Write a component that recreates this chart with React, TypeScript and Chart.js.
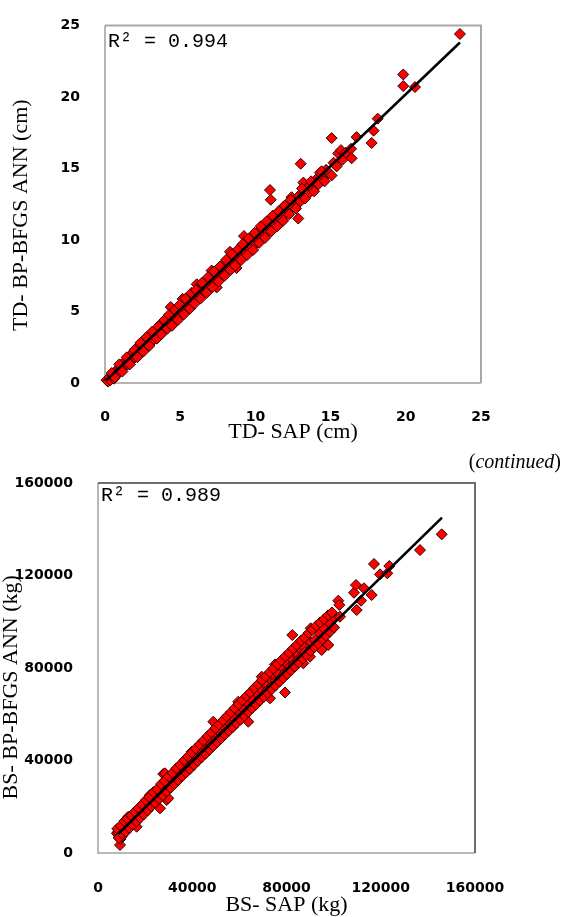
import React, { useEffect, useRef } from "react";
import { Chart, registerables } from "chart.js";

Chart.register(...registerables);

// ---------- Panel 1: TD (cm) ----------
const tdSap = [
  0.1, 0.2, 0.3, 0.35, 0.5, 0.55, 0.6, 0.7, 0.75, 0.8, 0.9, 1.0, 1.05, 1.1, 1.2, 1.3, 1.35, 1.4, 1.5, 1.55, 1.6, 1.7, 1.8, 1.85, 1.88, 2.0,
  2.1, 2.2, 2.25, 2.3, 2.44, 2.5, 2.6, 2.7, 2.8, 2.85, 2.9, 3.0, 3.1, 3.2, 3.3, 3.35, 3.4, 3.5, 3.6, 3.66, 3.7, 3.8, 3.9, 4.0, 4.05, 4.1, 4.2,
  4.3, 4.37, 4.4, 4.5, 4.6, 4.7, 4.8, 4.9, 5.0, 5.1, 5.16, 5.2, 5.3, 5.4, 5.5, 5.6, 5.7, 5.8, 5.9, 6.0, 6.1, 6.15, 6.2, 6.3, 6.4, 6.5,
  6.6, 6.7, 6.8, 6.9, 7.0, 7.09, 7.2, 7.3, 7.43, 7.5, 7.6, 7.7, 7.8, 7.9,
  8.0, 8.1, 8.2, 8.31, 8.4, 8.5, 8.6, 8.75, 8.8, 8.9, 9.0, 9.1, 9.24, 9.3, 9.4, 9.5, 9.6, 9.7, 9.8, 9.9, 10.0, 10.1, 10.2, 10.3, 10.4,
  10.5, 10.6, 10.7, 10.8, 10.97, 11.02, 11.0, 11.1, 11.2, 11.3, 11.4, 11.5, 11.64, 11.7, 11.86, 12.0, 12.1, 12.2, 12.41, 12.5, 12.6, 12.85,
  12.9, 13.0, 13.01, 13.19, 13.2, 13.41, 13.5, 13.6, 13.85, 14.0, 14.07, 14.2, 14.3, 14.5, 14.7, 15.07, 15.07, 15.2, 15.4, 15.51, 15.69,
  15.78, 16.0, 16.36, 16.4, 16.73, 17.73, 17.86, 18.13, 19.83, 19.83, 20.61, 23.6,
  0.45, 0.65, 0.95, 1.15, 1.45, 1.65, 1.95, 2.15, 2.35, 2.55, 2.75, 2.95, 3.15, 3.45, 3.55, 3.75, 3.95, 4.15, 4.25, 4.45, 4.65, 4.85,
  4.95, 5.25, 5.35, 5.65, 5.75, 5.95, 6.05, 6.35, 6.45, 6.75, 6.85, 7.15, 7.25, 7.55, 7.65, 7.95, 8.05, 8.35, 8.45, 8.65, 8.85, 9.05,
  9.15, 9.45, 9.55, 9.85, 9.95, 10.25, 10.35, 10.65, 10.75, 11.05, 11.15, 11.45, 11.55, 11.85, 11.95, 12.25, 12.35, 12.7, 13.1, 13.3,
  13.7, 13.9, 14.4, 14.6,
];
const tdAnn = [
  0.2, 0.1, 0.4, 0.2, 0.6, 0.5, 0.3, 0.8, 0.6, 0.9, 0.7, 1.1, 0.9, 1.3, 1.0, 1.4, 1.2, 1.6, 1.3, 1.5, 1.8, 1.5, 2.0, 1.7, 2.13, 1.8,
  2.4, 2.0, 2.3, 2.6, 2.81, 2.3, 2.7, 2.5, 3.0, 2.7, 3.2, 2.8, 3.3, 3.0, 3.5, 3.2, 3.7, 3.3, 3.8, 4.07, 3.5, 4.0, 3.7, 4.2, 3.9, 4.5, 4.0,
  4.6, 5.31, 4.2, 4.8, 4.4, 5.0, 4.5, 5.2, 4.7, 5.3, 5.88, 4.9, 5.6, 5.1, 5.8, 5.4, 6.0, 5.5, 6.2, 5.8, 6.9, 6.4, 6.0, 6.7, 6.1, 6.9,
  6.4, 7.0, 6.5, 7.2, 6.8, 7.86, 7.0, 7.7, 6.68, 7.3, 8.0, 7.5, 8.2, 7.7,
  8.3, 7.9, 8.6, 9.17, 8.2, 8.8, 8.3, 8.04, 9.1, 8.7, 9.3, 8.9, 10.27, 9.6, 9.1, 9.9, 9.4, 10.0, 9.5, 10.3, 9.8, 10.5, 10.0, 10.7, 10.2,
  10.9, 10.4, 11.1, 10.6, 13.49, 12.81, 11.3, 10.9, 11.6, 11.1, 11.8, 11.3, 11.97, 11.5, 12.31, 11.8, 12.4, 12.0, 12.99, 12.3, 12.8, 11.5,
  13.1, 12.7, 15.33, 14.01, 13.3, 13.56, 13.2, 13.8, 13.56, 14.2, 14.01, 13.9, 14.69, 14.3, 14.9, 14.51, 17.12, 15.4, 15.14, 16.05, 16.28,
  15.6, 16.1, 16.37, 15.71, 17.19, 16.78, 17.64, 18.48, 21.57, 20.76, 20.69, 24.4,
  0.7, 0.4, 1.3, 0.8, 1.8, 1.3, 2.3, 1.8, 2.8, 2.2, 3.2, 2.6, 3.6, 3.1, 3.95, 3.4, 4.4, 3.8, 4.75, 4.0, 5.1, 4.4,
  5.45, 4.8, 5.9, 5.2, 6.3, 5.55, 6.5, 5.9, 7.0, 6.3, 7.4, 6.7, 7.8, 7.1, 8.15, 7.5, 8.6, 7.9, 9.0, 8.2, 9.35, 8.6,
  9.7, 8.95, 10.1, 9.3, 10.5, 9.8, 10.95, 10.15, 11.3, 10.6, 11.7, 10.95, 12.0, 11.35, 12.4, 11.8, 12.8, 12.2, 13.6, 12.9,
  14.1, 13.4, 14.8, 14.1,
];
const tdFitX = [0.1, 23.6];
const tdFitY = [0.2, 23.8];
const tdTicks = [0, 5, 10, 15, 20, 25];

// ---------- Panel 2: BS (kg) ----------
const bsSap = [
  8000, 8500, 9000, 9340, 9500, 10060, 10500, 11000, 11500, 12000, 12860, 13000, 13500, 14000, 15000, 15500, 16420, 16500, 17000, 17500,
  18000, 18500, 19230, 19950, 20500, 21000, 22070, 22000, 22500, 23000, 24000, 24500, 25000, 26000, 26310, 27000, 27710, 28000, 28430,
  29140, 29840, 29000, 30000, 31000, 32000, 33000, 34000, 35000, 36000, 37000, 38000, 39000, 39750, 40000, 41000, 42000, 43000, 44000,
  45000, 46000, 47000, 48000, 48930, 49000, 50000, 51000, 52000, 53000, 53900, 54000, 55000, 56000, 57000, 58000, 59000, 59540, 60000,
  61000, 62000, 63000, 63790, 64000, 65000, 66000, 67000, 68000, 69000, 69470, 70000, 71000, 72000, 73000, 73000, 74000, 74400, 75120,
  75500, 76000, 77000, 78000, 79360, 79000, 80000, 81000, 81480, 82000, 82460, 83000, 84000, 84320, 85000, 86000, 87130, 87140, 88000,
  89970, 90270, 90000, 92100, 94220, 94930, 96000, 97740, 98460, 99860, 101990, 102410, 102700, 109790, 108650, 109500, 111620, 112890,
  116150, 117130, 119680, 122780, 123630, 136660, 145870,
  8200, 8800, 9600, 10300, 11200, 11900, 12500, 13300, 14100, 14800, 15600, 16300, 17200, 17900, 18700, 19400, 20300, 21100, 21800,
  22600, 23500, 24200, 25100, 25900, 26800, 27500, 28300, 29100, 30000, 30800, 31600, 32400, 33300, 34100, 34900, 35700, 36600, 37400,
  38200, 39000, 39900, 40700, 41500, 42300, 43200, 44000, 44800, 45600, 46500, 47300, 48100, 48900, 49800, 50600, 51400, 52200, 53100,
  53900, 54700, 55500, 56400, 57200, 58000, 58800, 59700, 60500, 61300, 62100, 63000, 63800, 64600, 65400, 66300, 67100, 67900, 68700,
  69600, 70400, 71200, 72000, 72900, 73700, 74500, 75300, 76200, 77000, 77800, 78600, 79500, 80300, 81100, 81900, 82800, 83600, 84400,
  85200, 86100, 86900, 87700, 88500, 89400, 90200, 91000, 91800, 92700, 93500, 94300, 95200, 96000, 96800, 97700, 98500, 99300, 100200,
];
const bsAnn = [
  8500, 9000, 7000, 3460, 6000, 7050, 11000, 9500, 12500, 10500, 15700, 12000, 14000, 12500, 15500, 13500, 11370, 17000, 15000, 18500,
  16500, 19500, 17160, 20020, 22000, 19500, 25080, 21000, 23500, 21500, 25000, 22500, 26500, 24000, 19330, 28000, 34160, 26000, 34460,
  22920, 23650, 30500, 28500, 32500, 30000, 34500, 32000, 36500, 34500, 38500, 36000, 40500, 43800, 38500, 42500, 40000, 44500, 42000,
  46500, 44000, 48500, 46000, 56770, 50500, 48000, 53000, 50000, 55000, 51760, 52000, 57000, 54000, 59000, 56000, 61500, 65420, 58000,
  63000, 60000, 65500, 56770, 62000, 67000, 64000, 69500, 66000, 71000, 76230, 68000, 73000, 70500, 66890, 75500, 72000, 76960, 81500,
  74500, 78000, 75000, 80500, 69400, 77500, 82000, 79500, 80560, 84500, 94260, 81500, 86000, 86350, 83500, 88000, 82030, 89210, 87000,
  84880, 97150, 91500, 92100, 95000, 87770, 97000, 89940, 99310, 102180, 109100, 107240, 102180, 105070, 112560, 115880, 109100, 114460,
  111560, 124970, 120500, 120940, 124100, 131000, 137800,
  10500, 6500, 11800, 8200, 13800, 9200, 14800, 10800, 16200, 12300, 17800, 13600, 19400, 15200, 21000, 16700, 22800, 18400, 24100,
  20200, 26300, 21700, 27600, 23400, 29800, 24900, 31200, 26600, 33100, 28200, 34700, 29800, 36600, 31500, 38200, 33200, 40100, 34800,
  41700, 36300, 43500, 38100, 45200, 39700, 47000, 41400, 48600, 42900, 50500, 44600, 52100, 46200, 54000, 47900, 55600, 49500, 57400,
  51200, 59100, 52800, 60900, 54400, 62600, 56100, 64300, 57700, 66000, 59300, 67800, 61000, 69400, 62600, 71300, 64200, 72900, 65900,
  74700, 67500, 76300, 69200, 78200, 70800, 79800, 72400, 81600, 74100, 83300, 75700, 85000, 77400, 86600, 79000, 88400, 80600, 90000,
  82300, 91800, 84000, 93200, 85600, 95100, 87300, 96500, 89000, 98300, 90600, 99700, 92500, 101200, 94000, 102800, 95700, 104000, 97500,
];
const bsFitX = [8500, 146000];
const bsFitY = [8200, 145000];
const bsTicks = [0, 40000, 80000, 120000, 160000];

const TICK_FONT = { family: "'DejaVu Sans', sans-serif", size: 14, weight: "bold" as const };
const TITLE_FONT = { family: "'Liberation Serif', 'Times New Roman', serif", size: 22, lineHeight: 1 };

const plotFrame = {
  id: "plotFrame",
  beforeDatasetsDraw(chart: any, _args: any, opts: any) {
    const { ctx, chartArea: a } = chart;
    ctx.save();
    ctx.lineWidth = opts.width;
    ctx.strokeStyle = opts.near;
    ctx.beginPath();
    ctx.moveTo(a.left, a.top);
    ctx.lineTo(a.left, a.bottom);
    ctx.lineTo(a.right, a.bottom);
    ctx.stroke();
    ctx.strokeStyle = opts.far;
    ctx.beginPath();
    ctx.moveTo(a.left, a.top);
    ctx.lineTo(a.right, a.top);
    ctx.lineTo(a.right, a.bottom);
    ctx.stroke();
    ctx.restore();
  },
  afterDraw(chart: any, _args: any, opts: any) {
    const { ctx, chartArea: a } = chart;
    ctx.save();
    ctx.font = "20px 'Liberation Mono', 'Courier New', monospace";
    ctx.fillStyle = "#000";
    ctx.textBaseline = "middle";
    ctx.textAlign = "left";
    ctx.fillText(opts.label, a.left + opts.dx, a.top + opts.dy);
    ctx.restore();
  },
};

type PanelCfg = {
  xs: number[];
  ys: number[];
  fitX: number[];
  fitY: number[];
  ticks: number[];
  xTitle: string;
  yTitle: string;
  r2: string;
  r2dx: number;
  r2dy: number;
  yAxisWidth: number;
  xAxisHeight: number;
  pad: { top: number; right: number; left: number; bottom: number };
  xTickPad: number;
  yTickPad: number;
  xTitlePad: number;
  yTitlePad: number;
  near: string;
  far: string;
};

function buildConfig(c: PanelCfg): any {
  const pts = c.xs.map((x, i) => ({ x, y: c.ys[i] }));
  const fit = c.fitX.map((x, i) => ({ x, y: c.fitY[i] }));
  const setTicks = (scale: any) => {
    scale.ticks = c.ticks.map((v) => ({ value: v }));
  };
  const lo = c.ticks[0];
  const hi = c.ticks[c.ticks.length - 1];
  return {
    type: "scatter",
    data: {
      datasets: [
        {
          type: "line",
          data: fit,
          borderColor: "#000",
          borderWidth: 2.6,
          pointRadius: 0,
          fill: false,
          showLine: true,
        },
        {
          type: "scatter",
          data: pts,
          pointStyle: "rectRot",
          pointRadius: 5.5,
          backgroundColor: "#ff0000",
          borderColor: "#2a0000",
          borderWidth: 1,
          clip: false,
        },
      ],
    },
    options: {
      animation: false,
      responsive: false,
      events: [],
      layout: { padding: c.pad },
      plugins: {
        legend: { display: false },
        tooltip: { enabled: false },
        plotFrame: { width: 2, near: c.near, far: c.far, label: c.r2, dx: c.r2dx, dy: c.r2dy },
      },
      scales: {
        x: {
          type: "linear",
          min: lo,
          max: hi,
          afterBuildTicks: setTicks,
          afterFit: (s: any) => {
            s.height = c.xAxisHeight;
          },
          grid: { display: false },
          border: { display: false },
          ticks: {
            font: TICK_FONT,
            color: "#000",
            padding: c.xTickPad,
            maxRotation: 0,
            autoSkip: false,
            callback: (v: any) => String(v),
          },
          title: {
            display: true,
            text: c.xTitle,
            font: TITLE_FONT,
            color: "#000",
            padding: { top: 0, bottom: c.xTitlePad },
          },
        },
        y: {
          type: "linear",
          min: lo,
          max: hi,
          afterBuildTicks: setTicks,
          afterFit: (s: any) => {
            s.width = c.yAxisWidth;
          },
          grid: { display: false },
          border: { display: false },
          ticks: {
            font: TICK_FONT,
            color: "#000",
            padding: c.yTickPad,
            autoSkip: false,
            callback: (v: any) => String(v),
          },
          title: {
            display: true,
            text: c.yTitle,
            font: TITLE_FONT,
            color: "#000",
            padding: { top: c.yTitlePad, bottom: 0 },
          },
        },
      },
    },
    plugins: [plotFrame],
  };
}

const panelTop: PanelCfg = {
  xs: tdSap,
  ys: tdAnn,
  fitX: tdFitX,
  fitY: tdFitY,
  ticks: tdTicks,
  xTitle: "TD- SAP (cm)",
  yTitle: "TD- BP-BFGS ANN (cm)    ",
  r2: "R\u00B2 = 0.994",
  r2dx: 3,
  r2dy: 16,
  yAxisWidth: 105,
  xAxisHeight: 67,
  pad: { top: 16, right: 85, left: 0, bottom: 0 },
  xTickPad: 18,
  yTickPad: 17,
  xTitlePad: 6.5,
  yTitlePad: 10,
  near: "#b4b4b4",
  far: "#a8a8a8",
};

const panelBottom: PanelCfg = {
  xs: bsSap,
  ys: bsAnn,
  fitX: bsFitX,
  fitY: bsFitY,
  ticks: bsTicks,
  xTitle: "BS- SAP (kg)",
  yTitle: "BS- BP-BFGS ANN (kg)       ",
  r2: "R\u00B2 = 0.989",
  r2dx: 3,
  r2dy: 13,
  yAxisWidth: 98,
  xAxisHeight: 64,
  pad: { top: 33, right: 91, left: 0, bottom: 0 },
  xTickPad: 19,
  yTickPad: 17,
  xTitlePad: 1,
  yTitlePad: 0.5,
  near: "#b8b8b8",
  far: "#6e6e6e",
};

function Panel({ cfg, width, height, top }: { cfg: PanelCfg; width: number; height: number; top: number }) {
  const ref = useRef<HTMLCanvasElement | null>(null);
  useEffect(() => {
    if (!ref.current) return;
    const chart = new Chart(ref.current, buildConfig(cfg));
    return () => chart.destroy();
  }, [cfg]);
  return (
    <canvas
      ref={ref}
      width={width}
      height={height}
      style={{ position: "absolute", left: 0, top, width, height, display: "block" }}
    />
  );
}

export default function App() {
  return (
    <div style={{ position: "absolute", left: 0, top: 0, width: 566, height: 917, background: "#fff", overflow: "hidden" }}>
      <Panel cfg={panelTop} width={566} height={450} top={0} />
      <div
        style={{
          position: "absolute",
          right: 5,
          top: 450,
          height: 22,
          lineHeight: "22px",
          fontFamily: "'Liberation Serif', 'Times New Roman', serif",
          fontSize: 20,
          color: "#000",
          whiteSpace: "nowrap",
          zIndex: 2,
        }}
      >
        (<i>continued</i>)
      </div>
      <Panel cfg={panelBottom} width={566} height={467} top={450} />
    </div>
  );
}
